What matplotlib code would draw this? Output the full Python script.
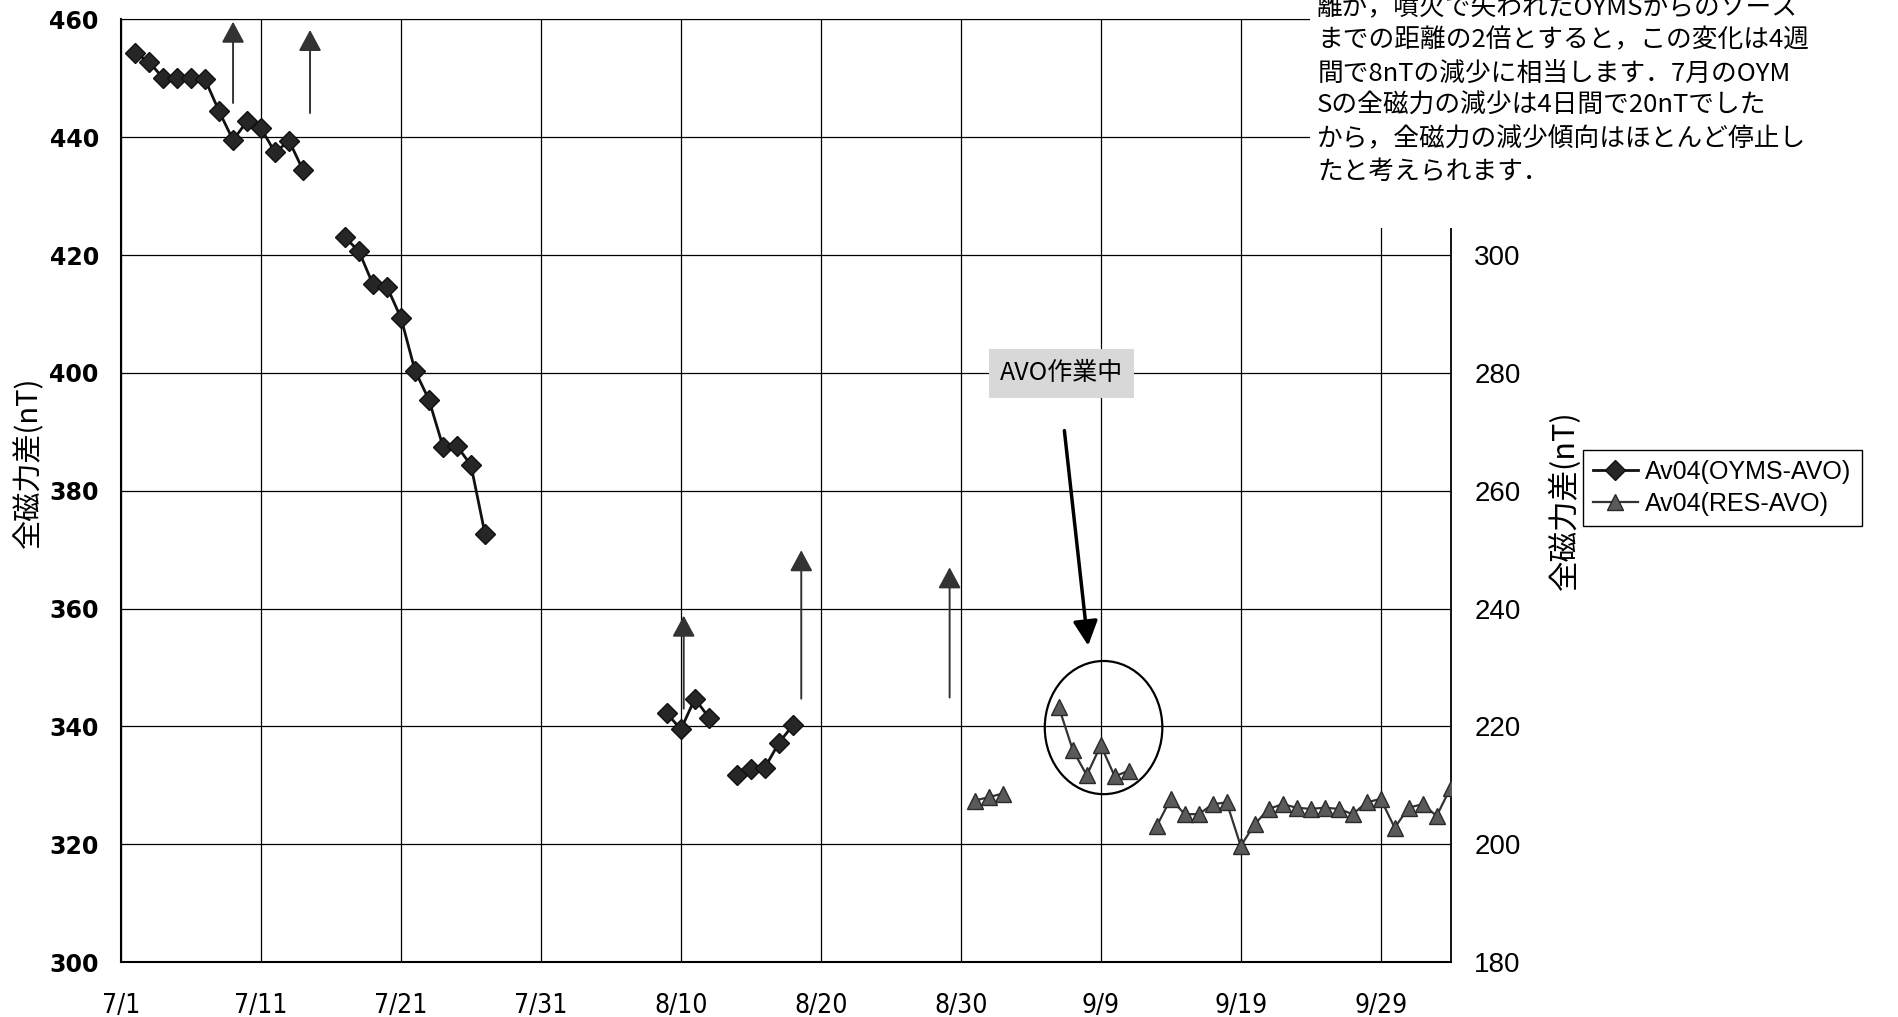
import numpy as np
import matplotlib
matplotlib.use("Agg")
import matplotlib.pyplot as plt
from matplotlib import font_manager as fm
from matplotlib.patches import Ellipse, Rectangle

plt.rcParams['font.family'] = ['Noto Sans CJK JP', 'DejaVu Sans']

# days counted from 7/1 (= 0)
oyms_days = np.array([1, 2, 3, 4, 5, 6, 7, 8, 9, 10, 11, 12, 13,
                      16, 17, 18, 19, 20, 21, 22, 23, 24, 25, 26,
                      39, 40, 41, 42,
                      44, 45, 46, 47, 48])
oyms_vals = np.array([454.3, 452.8, 450.0, 450.0, 450.0, 449.8, 444.4, 439.5, 442.7, 441.5, 437.4, 439.4, 434.4,
                      423.0, 420.6, 415.0, 414.6, 409.3, 400.4, 395.4, 387.5, 387.6, 384.3, 372.7,
                      342.2, 339.5, 344.7, 341.5,
                      331.8, 332.8, 333.0, 337.2, 340.2])

res_days = np.array([61, 62, 63,
                     67, 68, 69, 70, 71, 72,
                     74, 75, 76, 77, 78, 79, 80, 81, 82, 83, 84, 85, 86, 87, 88, 89, 90, 91, 92, 93, 94, 95])
res_vals = np.array([207.4, 208.0, 208.6,
                     223.3, 216.0, 211.7, 216.8, 211.5, 212.5,
                     203.1, 207.7, 205.1, 205.1, 206.8, 207.1, 199.7, 203.4, 206.0, 206.8, 206.2,
                     206.0, 206.2, 206.0, 205.1, 207.1, 207.7, 202.8, 206.2, 206.8, 204.8, 209.6])

xtick_days = [0, 10, 20, 30, 40, 50, 60, 70, 80, 90]
xtick_labels = ['7/1', '7/11', '7/21', '7/31', '8/10', '8/20', '8/30', '9/9', '9/19', '9/29']
left_ticks = [300, 320, 340, 360, 380, 400, 420, 440, 460]
right_ticks = [180, 200, 220, 240, 260, 280, 300]

# upward arrows: day, start, tip (left axis units)
arrow_x = [8.0, 13.5, 40.2, 48.6, 59.2]
arrow_from = [445.8, 444.1, 343.0, 344.7, 344.9]
arrow_to = [459.6, 458.2, 358.8, 369.9, 367.0]

note_lines = ['離が，噴火で失われたOYMSからのソース',
              'までの距離の2倍とすると，この変化は4週',
              '間で8nTの減少に相当します．7月のOYM',
              'Sの全磁力の減少は4日間で20nTでした',
              'から，全磁力の減少傾向はほとんど停止し',
              'たと考えられます．']


def has_font(name):
    try:
        fm.findfont(fm.FontProperties(family=name), fallback_to_default=False)
        return True
    except ValueError:
        return False


narrow = 'Liberation Sans Narrow' if has_font('Liberation Sans Narrow') else 'DejaVu Sans'


def segments(d, v):
    cut = np.where(np.diff(d) > 1)[0] + 1
    return zip(np.split(d, cut), np.split(v, cut))


fig = plt.figure(figsize=(18.98, 10.17), dpi=100)
ax = fig.add_axes([0.0638, 0.054, 0.7005, 0.927])
ax2 = ax.twinx()

ax.set_xlim(0, 95)
ax.set_ylim(300, 460)
ax2.set_ylim(180, 340)
ax.set_xticks(xtick_days)
ax.set_xticklabels(xtick_labels)
ax.set_yticks(left_ticks)
ax2.set_yticks(right_ticks)
ax.grid(True, color='black', lw=0.9)
ax.set_axisbelow(True)

for d, v in segments(oyms_days, oyms_vals):
    ax.plot(d, v, '-D', color='#111111', mfc='#262626', mec='#111111', ms=10, lw=2, zorder=3)
for d, v in segments(res_days, res_vals):
    ax2.plot(d, v, '-^', color='#333333', mfc='#5a5a5a', mec='#2a2a2a', ms=11, lw=1.6, zorder=3)

for x, y0, y1 in zip(arrow_x, arrow_from, arrow_to):
    ax.annotate('', xy=(x, y1), xytext=(x, y0),
                arrowprops=dict(arrowstyle='-|>,head_length=1.3,head_width=0.7',
                                lw=1.4, color='#333333', shrinkA=0, shrinkB=0))

ax.annotate('', xy=(69.1, 353.7), xytext=(67.4, 390.2),
            arrowprops=dict(arrowstyle='-|>,head_length=1.5,head_width=0.75',
                            lw=2.5, color='black', shrinkA=0, shrinkB=0))
ax.text(67.2, 399.9, 'AVO作業中', fontsize=18, ha='center', va='center',
        bbox=dict(boxstyle='square,pad=0.45', facecolor='#d8d8d8', edgecolor='none'), zorder=4)
ax.add_patch(Ellipse((70.2, 339.8), 8.4, 22.6, fill=False, ec='black', lw=1.6, zorder=4))

ax.tick_params(axis='both', length=0)
ax.tick_params(axis='y', pad=16)
ax.tick_params(axis='x', pad=22)
ax2.tick_params(axis='y', length=0, pad=17)
for lab in ax.get_yticklabels():
    lab.set_fontfamily('DejaVu Sans')
    lab.set_fontweight('bold')
    lab.set_fontsize(17)
for lab in ax.get_xticklabels():
    lab.set_fontfamily(narrow)
    lab.set_fontstretch('condensed')
    lab.set_fontsize(19)
for lab in ax2.get_yticklabels():
    lab.set_fontfamily('Liberation Sans')
    lab.set_fontsize(20)

for s in ['left', 'bottom']:
    ax.spines[s].set_linewidth(1.5)
ax.spines['top'].set_linewidth(0.8)
ax.spines['right'].set_visible(False)
for s in ['left', 'bottom', 'top']:
    ax2.spines[s].set_visible(False)
ax2.spines['right'].set_linewidth(1.3)

ax.set_ylabel('全磁力差(nT)', fontsize=21)
ax.yaxis.set_label_coords(-0.058, 0.53)
ax2.set_ylabel('全磁力差(nT)', fontsize=22)
ax2.yaxis.set_label_coords(1.074, 0.49)

h1, = ax.plot([], [], '-D', color='#111111', mfc='#262626', mec='#111111', ms=10, lw=2)
h2, = ax.plot([], [], '-^', color='#333333', mfc='#5a5a5a', mec='#2a2a2a', ms=11, lw=1.6)
leg = fig.legend([h1, h2], ['Av04(OYMS-AVO)', 'Av04(RES-AVO)'], loc='upper left',
                 bbox_to_anchor=(0.834, 0.5575), bbox_transform=fig.transFigure,
                 borderaxespad=0, fancybox=False, edgecolor='black', framealpha=1,
                 prop={'family': 'Liberation Sans', 'size': 18}, handlelength=1.8,
                 handletextpad=0.3, borderpad=0.4, labelspacing=0.3)
leg.get_frame().set_linewidth(1.0)

fig.add_artist(Rectangle((0.690, 0.776), 0.31, 0.224, transform=fig.transFigure,
                         facecolor='white', edgecolor='none', zorder=5))
for i, line in enumerate(note_lines):
    fig.text(0.694, 1 - (8 + 32.7 * i) / 1017, line, fontsize=18.5, ha='left', va='center', zorder=6)

fig.savefig('out.png', dpi=100)
